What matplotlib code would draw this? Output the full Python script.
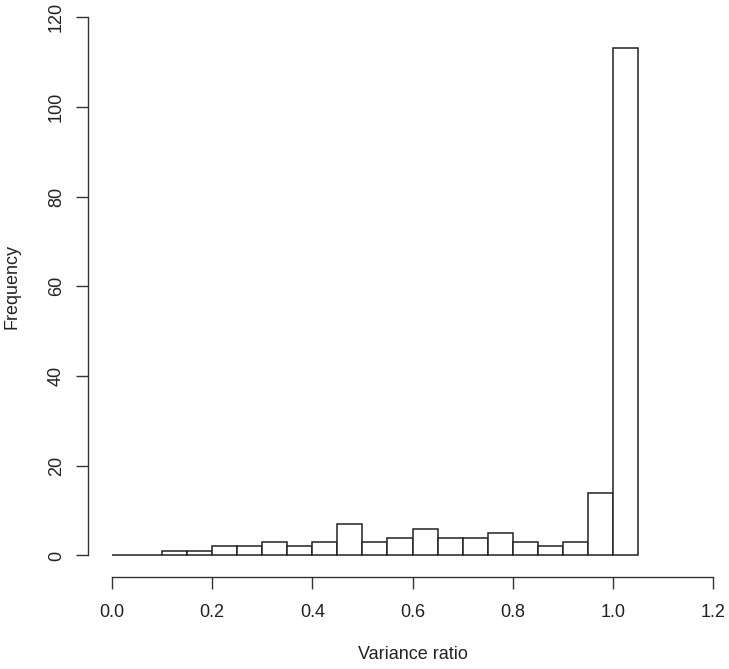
import numpy as np
import matplotlib.pyplot as plt

plt.rcParams['font.family'] = ['Liberation Sans', 'DejaVu Sans']

# histogram of variance ratios, bin width 0.05
bin_edges = np.round(np.arange(0, 1.05 + 1e-9, 0.05), 2)
counts = [0, 0, 1, 1, 2, 2, 3, 2, 3, 7, 3, 4, 6, 4, 4, 5, 3, 2, 3, 14, 113]

x_ticks = [0.0, 0.2, 0.4, 0.6, 0.8, 1.0, 1.2]
y_ticks = [0, 20, 40, 60, 80, 100, 120]

fig = plt.figure(figsize=(7.29, 6.69), dpi=100)
W, H = 729, 669
ax = fig.add_axes([88 / W, (H - 577) / H, (737 - 88) / W, (577 + 4.5) / H])

ax.bar(bin_edges[:-1], counts, width=0.05, align='edge',
       facecolor='white', edgecolor='#222222', linewidth=1.1)

ax.set_xlim(-0.048, 1.248)
ax.set_ylim(-4.8, 124.8)

for s in ['top', 'right']:
    ax.spines[s].set_visible(False)
ax.spines['left'].set_bounds(0, 120)
ax.spines['bottom'].set_bounds(0, 1.2)
for s in ['left', 'bottom']:
    ax.spines[s].set_linewidth(1.0)
    ax.spines[s].set_color('#333333')

fs = 13
ax.set_xticks(x_ticks)
ax.set_xticklabels([f"{v:.1f}" for v in x_ticks])
ax.set_yticks(y_ticks)
ax.set_yticklabels([str(v) for v in y_ticks], rotation=90, va='center')
ax.tick_params(length=8.5, width=1.0, color='#333333', labelsize=fs,
               labelcolor='#222222')
ax.tick_params(axis='x', pad=11)
ax.tick_params(axis='y', pad=8)

ax.set_xlabel("Variance ratio", fontsize=fs, color='#222222', labelpad=18)
ax.set_ylabel("Frequency", fontsize=fs, color='#222222', labelpad=20)

fig.savefig("out.png", dpi=100)
